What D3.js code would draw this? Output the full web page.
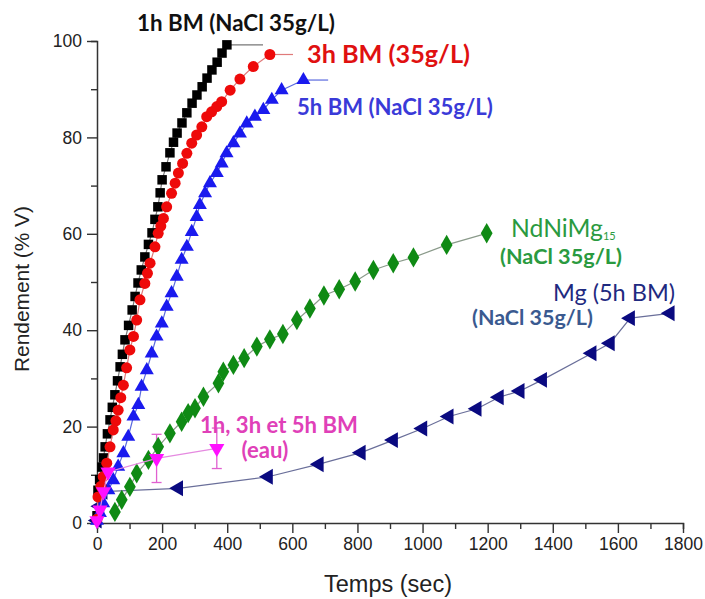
<!DOCTYPE html>
<html><head><meta charset="utf-8">
<script src="https://cdn.jsdelivr.net/npm/d3@7"></script>
<style>body{margin:0;background:#fff}svg{display:block}</style>
</head><body>
<svg id="chart" width="705" height="599"></svg>
<script>
// ---- Data ----
const xTicks = [0,200,400,600,800,1000,1200,1400,1600,1800];
const yTicks = [0,20,40,60,80,100];

const bm1h = [[0,1.5],[3,6.8],[8,9],[15,11.6],[20,13.5],[25,15.8],[32,18.5],[40,21.4],[47,24],[55,26.6],[63,29.5],[71,32.4],[78,35],[86,38],[97,41],[108,44.2],[117,47],[126,49.8],[136,52.5],[147,55.2],[158,57.8],[169,60.2],[178,63],[187,65.6],[194,68.5],[200,71.2],[212,73.9],[224,76.8],[235,79],[246,80.9],[261,83],[276,85.1],[292,87.1],[307,88.8],[323,90.5],[338,92.3],[353,94],[369,95.6],[384,97.5],[399,99.2]];
const bm1hTail = [[399,99.2],[510,99.2]];

const bm3h = [[0,0.8],[3,5.4],[12,7.6],[19,9.6],[30,12.4],[40,15.8],[50,19.3],[58,21.2],[65,23.4],[73,26],[81,28.6],[91,32.2],[101,35.9],[112,38.7],[122,42.1],[132,46.3],[147,49.7],[155,51.8],[163,53.9],[178,57.3],[188,60.1],[196,61.6],[204,63.2],[214,65.6],[229,68.4],[240,70.5],[250,72.6],[263,74.6],[276,76.7],[291,78.8],[306,80.5],[322,82.2],[337,84.3],[352,85.3],[368,86.4],[383,87.4],[409,89.8],[439,92.1],[480,94.7],[531,97.2]];
const bm3hTail = [[531,97.2],[602,97.2]];

const bm5h = [[0,0.5],[9,2.1],[19,4.1],[35,6.8],[50,8.9],[65,11.7],[81,14.5],[96,17.9],[112,22.1],[127,24.5],[137,28.3],[153,31.7],[168,35.2],[183,38.7],[199,41.4],[214,44.9],[229,47.7],[245,51.1],[260,54.6],[276,57.3],[291,60.4],[306,63.5],[316,66],[332,68.4],[347,70.5],[368,72.6],[383,74.6],[398,76.7],[419,78.8],[439,80.8],[460,82.9],[485,84.3],[511,85.7],[537,87.8],[567,89.8],[634,91.9]];
const bm5hTail = [[634,91.9],[710,91.9]];

const ndnimg = [[55,2.3],[76,4.8],[101,7.5],[122,10.3],[158,13.1],[188,15.8],[224,18.6],[260,21],[280,22.8],[301,23.8],[327,26.2],[373,29],[388,31.4],[419,32.8],[452,34.2],[491,36.6],[531,38.1],[571,39.2],[614,42.1],[654,44.5],[697,47.2],[744,48.5],[793,50.1],[849,52.5],[910,53.9],[972,55.1],[1074,57.7],[1197,60.1]];

const mg5h = [[0,0.5],[8,3.5],[18,6.5],[250,7.2],[526,9.6],[682,12.2],[811,14.6],[910,17.2],[1000,19.6],[1081,22.1],[1167,23.7],[1235,26.1],[1299,27.4],[1368,29.7],[1520,35.2],[1576,37.3],[1638,42.5],[1760,43.5]];

const eau = [[0,0.5],[9,2.7],[20,6.5],[34,10.6],[183,13.4],[368,15.5]];
const eauErr = [0,0,0,0,5.0,4.2];

// ---- Layout ----
const svg = d3.select("#chart");
const x = d3.scaleLinear().domain([0,1800]).range([97,683]);
const y = d3.scaleLinear().domain([0,100]).range([523,41]);
const af = "'Liberation Sans', Arial, sans-serif";

const axisColor = "#333";
const xAxis = svg.append("g").attr("transform","translate(0,523)")
  .call(d3.axisBottom(x).tickValues(d3.range(0,1801,100)).tickSize(6).tickFormat(d=>xTicks.includes(d)?d:""));
const yAxis = svg.append("g").attr("transform","translate(97,0)")
  .call(d3.axisLeft(y).tickValues(d3.range(0,101,10)).tickSize(6).tickFormat(d=>yTicks.includes(d)?d:""));
[xAxis,yAxis].forEach(g=>{
  g.select(".domain").attr("stroke",axisColor).attr("stroke-width",1.5);
  g.selectAll(".tick line").attr("stroke",axisColor).attr("stroke-width",1.4);
  g.selectAll("text").attr("fill","#222").style("font-family",af).style("font-size","17.5px");
});
xAxis.selectAll(".tick").filter(d=>!xTicks.includes(d)).select("line").attr("y2",6);
xAxis.selectAll(".tick").filter(d=>xTicks.includes(d)).select("line").attr("y2",10);
xAxis.selectAll("text").attr("y",15);
yAxis.selectAll(".tick").filter(d=>!yTicks.includes(d)).select("line").attr("x2",-6);
yAxis.selectAll(".tick").filter(d=>yTicks.includes(d)).select("line").attr("x2",-10);
yAxis.selectAll("text").attr("x",-15);

function fitText(sel, target){
  const w = sel.node().getComputedTextLength();
  const fs = parseFloat(sel.style("font-size"));
  sel.style("font-size",(fs*target/w)+"px");
}
const xt = svg.append("text").attr("x",388).attr("y",592).attr("text-anchor","middle")
  .style("font-family",af).style("font-size","20px").attr("fill","#222").text("Temps (sec)");
fitText(xt,128);
const yt = svg.append("text").attr("transform","translate(29,289) rotate(-90)").attr("text-anchor","middle")
  .style("font-family",af).style("font-size","20px").attr("fill","#222").text("Rendement (% V)");
fitText(yt,166);

const line = d3.line().x(d=>x(d[0])).y(d=>y(d[1]));

function series(data, tail, lineColor, symType, size, color, rotate){
  const g = svg.append("g");
  g.append("path").datum(data).attr("d",line).attr("fill","none").attr("stroke",lineColor).attr("stroke-width",1.2);
  if(tail) g.append("path").datum(tail).attr("d",line).attr("fill","none").attr("stroke",lineColor).attr("stroke-width",1.2);
  const sym = d3.symbol().type(symType).size(size);
  g.selectAll("path.m").data(data).join("path").attr("class","m")
    .attr("transform",d=>`translate(${x(d[0])},${y(d[1])}) rotate(${rotate||0})`)
    .attr("d",sym).attr("fill",color);
  return g;
}

const eg = svg.append("g");
eau.forEach((d,i)=>{
  const e = eauErr[i]; if(!e) return;
  const cx = x(d[0]);
  eg.append("line").attr("x1",cx).attr("x2",cx).attr("y1",y(d[1]-e)).attr("y2",y(d[1]+e)).attr("stroke","#e060d0").attr("stroke-width",1.3);
  [d[1]-e,d[1]+e].forEach(v=>eg.append("line").attr("x1",cx-5).attr("x2",cx+5).attr("y1",y(v)).attr("y2",y(v)).attr("stroke","#e060d0").attr("stroke-width",1.3));
});

series(mg5h, null, "#6a6f9a", d3.symbolTriangle, 110, "#0a0a80", -90);
series(ndnimg, null, "#8a9a8a", d3.symbolDiamond, 120, "#0f8a14", 0);
series(bm1h, bm1hTail, "#777", d3.symbolSquare, 90, "#000", 0);
series(bm5h, bm5hTail, "#5a6adf", d3.symbolTriangle, 85, "#1a1aee", 0);
series(bm3h, bm3hTail, "#e07a7a", d3.symbolCircle, 95, "#ee0a0a", 0);
series(eau, null, "#e58ae0", d3.symbolTriangle, 100, "#ff10ff", 180);

// annotations
const lf = "Lato, 'Open Sans', sans-serif";
function label(txt, xx, yy, width, color, weight){
  const t = svg.append("text").attr("x",xx).attr("y",yy).style("font-family",lf).style("font-size","20px")
    .style("font-weight",weight||"bold").attr("fill",color).text(txt);
  fitText(t,width);
  return t;
}
label("1h BM (NaCl 35g/L)", 137, 31, 198, "#111");
label("3h BM (35g/L)", 307, 63, 163, "#e01010");
label("5h BM (NaCl 35g/L)", 297, 115, 196, "#3a3ad8");
const nd = label("NdNiMg", 511, 237, 92, "#2a9a40", "normal");
nd.append("tspan").attr("dy",3).style("font-size","11px").text("15");
label("(NaCl 35g/L)", 500, 264, 122, "#2a9a40");
label("Mg (5h BM)", 553, 301, 122, "#1f2a80", "normal");
label("(NaCl 35g/L)", 472, 325, 121, "#3a5a90");
const eauLab = label("1h, 3h et 5h BM", 200, 433, 158, "#e040b8");
svg.append("text").attr("x",265).attr("y",458).attr("text-anchor","middle")
  .style("font-family",lf).style("font-weight","bold").style("font-size",eauLab.style("font-size"))
  .attr("fill","#e040b8").text("(eau)");
</script>
</body></html>
